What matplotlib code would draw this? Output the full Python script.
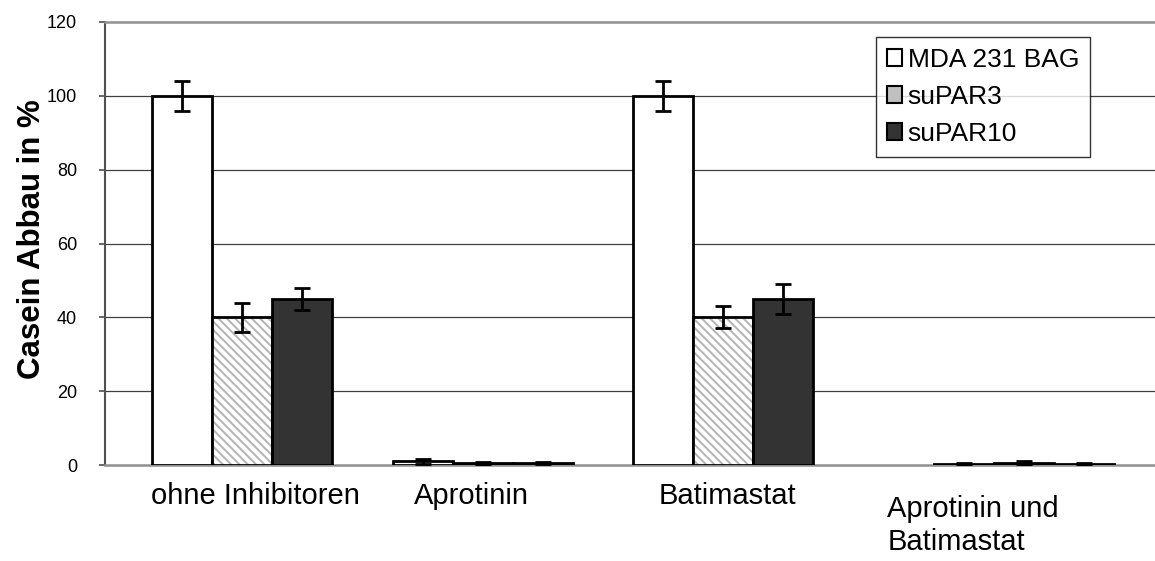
import numpy as np
import matplotlib
matplotlib.use("Agg")
import matplotlib.pyplot as plt
from matplotlib.patches import Patch
from matplotlib.transforms import blended_transform_factory, ScaledTranslation

plt.rcParams['font.family'] = ['Liberation Sans', 'DejaVu Sans']
plt.rcParams['hatch.linewidth'] = 1.4

# data
categories = ["ohne Inhibitoren", "Aprotinin", "Batimastat", "Aprotinin und\nBatimastat"]
series = ["MDA 231 BAG", "suPAR3", "suPAR10"]
mda = [100, 1.0, 100, 0.3]
mda_err = [4, 0.7, 4, 0.3]
supar3 = [40, 0.5, 40, 0.5]
supar3_err = [4, 0.4, 3, 0.5]
supar10 = [45, 0.5, 45, 0.3]
supar10_err = [3, 0.3, 4, 0.3]

# group centres and label positions (the original spacing is uneven)
group_pos = np.array([0, 1.004, 2.006, 3.26])
label_pos = [0.056, 0.956, 2.023, 3.048]
label_drop = [0, 0, 0, 13]  # px, last label sits lower
bw = 0.25

fig = plt.figure(figsize=(11.55, 5.61), dpi=100)
ax = fig.add_axes([105 / 1155, 1 - 465 / 561, 1 - 105 / 1155, 443 / 561])

err_kw = dict(fmt='none', ecolor='black', elinewidth=2, capsize=6, capthick=2, zorder=4)

x1 = group_pos - bw
x2 = group_pos
x3 = group_pos + bw

ax.bar(x1, mda, bw, color='white', edgecolor='black', linewidth=2, zorder=3)
ax.bar(x2, supar3, bw, color='white', edgecolor='#b4b4b4', hatch='\\\\\\\\', linewidth=0, zorder=3)
ax.bar(x2, supar3, bw, fill=False, edgecolor='black', linewidth=2, zorder=3)
ax.bar(x3, supar10, bw, color='#333333', edgecolor='black', linewidth=2, zorder=3)

ax.errorbar(x1, mda, yerr=mda_err, **err_kw)
ax.errorbar(x2, supar3, yerr=supar3_err, **err_kw)
ax.errorbar(x3, supar10, yerr=supar10_err, **err_kw)

ax.set_xlim(-0.569, 3.806)
ax.set_ylim(0, 120)
ax.set_yticks(range(0, 121, 20))
ax.tick_params(axis='y', labelsize=13, length=4, width=1.2, color='#505050', pad=16)
ax.set_xticks([])

trans = blended_transform_factory(ax.transData, ax.transAxes)
for pos, lab, drop in zip(label_pos, categories, label_drop):
    t = trans + ScaledTranslation(0, -(17 + drop) / 100, fig.dpi_scale_trans)
    ax.text(pos, 0, lab, transform=t, fontsize=21, ha='center', va='top',
            multialignment='left', linespacing=1.25)

for y in range(20, 101, 20):
    ax.axhline(y, color='#404040', lw=0.9, zorder=1)

ax.spines['right'].set_visible(False)
ax.spines['left'].set_color('#505050')
ax.spines['left'].set_linewidth(1.5)
ax.spines['top'].set_color('#909090')
ax.spines['top'].set_linewidth(1.8)
ax.spines['bottom'].set_color('#909090')
ax.spines['bottom'].set_linewidth(1.8)

ax.set_ylabel("Casein Abbau in %", fontsize=22.5, fontweight='bold')
ax.yaxis.set_label_coords(-0.055, 0.51)

handles = [Patch(facecolor='white', edgecolor='black', linewidth=1.5),
           Patch(facecolor='#c0c0c0', edgecolor='black', linewidth=1.5),
           Patch(facecolor='#333333', edgecolor='black', linewidth=1.5)]
leg = ax.legend(handles, series, loc='upper left', bbox_to_anchor=(876 / 1155, 1 - 37 / 561),
                bbox_transform=fig.transFigure, fontsize=19, frameon=True, fancybox=False,
                borderaxespad=0, handlelength=0.6, handleheight=0.6, handletextpad=0.2,
                labelspacing=0.5, borderpad=0.4)
leg.get_frame().set_edgecolor('black')
leg.get_frame().set_linewidth(1.0)

fig.savefig("out.png", dpi=100)
